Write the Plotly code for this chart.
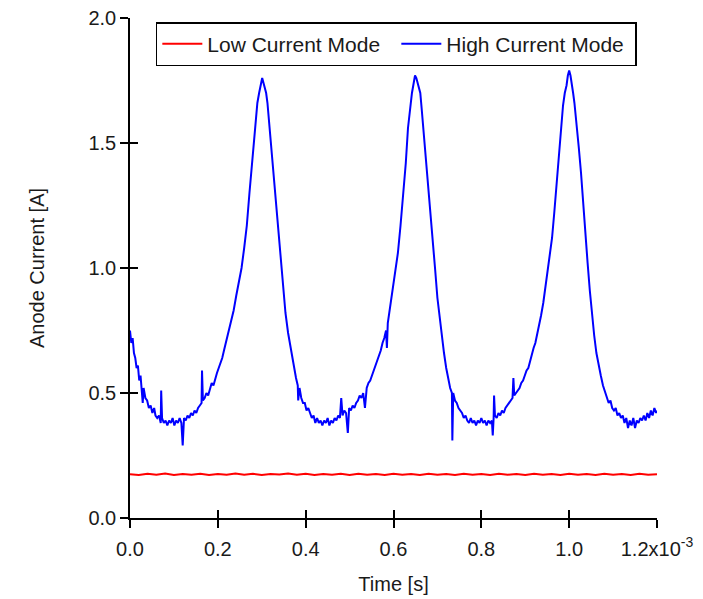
import plotly.graph_objects as go

# ---- data (time in ms, converted to s below) ----
high_time_ms = [
    0.000, 0.003, 0.006, 0.009, 0.012, 0.015, 0.018, 0.021, 0.024, 0.027,
    0.029, 0.031, 0.035, 0.039, 0.043, 0.047, 0.051, 0.055, 0.058, 0.062,
    0.066, 0.070, 0.071, 0.073, 0.077, 0.081, 0.085, 0.089, 0.093, 0.097,
    0.101, 0.105, 0.109, 0.113, 0.117, 0.120, 0.123, 0.127, 0.131, 0.135,
    0.139, 0.143, 0.147, 0.151, 0.155, 0.159, 0.163, 0.164, 0.166, 0.170,
    0.174, 0.178, 0.182, 0.186, 0.190, 0.194, 0.198, 0.202, 0.206, 0.210,
    0.214, 0.218, 0.222, 0.226, 0.230, 0.236, 0.242, 0.248, 0.254, 0.260,
    0.266, 0.272, 0.278, 0.284, 0.290, 0.294, 0.298, 0.301, 0.304, 0.307,
    0.310, 0.313, 0.316, 0.319, 0.324, 0.330, 0.336, 0.342, 0.348, 0.354,
    0.360, 0.366, 0.372, 0.378, 0.382, 0.383, 0.386, 0.390, 0.394, 0.398,
    0.402, 0.406, 0.410, 0.414, 0.418, 0.422, 0.426, 0.430, 0.434, 0.438,
    0.442, 0.446, 0.450, 0.454, 0.458, 0.462, 0.466, 0.470, 0.474, 0.478,
    0.481, 0.484, 0.488, 0.492, 0.496, 0.499, 0.503, 0.507, 0.511, 0.515,
    0.519, 0.523, 0.527, 0.531, 0.535, 0.539, 0.543, 0.547, 0.551, 0.555,
    0.559, 0.563, 0.567, 0.571, 0.575, 0.579, 0.583, 0.585, 0.587, 0.592,
    0.598, 0.604, 0.610, 0.616, 0.622, 0.628, 0.633, 0.638, 0.642, 0.646,
    0.649, 0.652, 0.655, 0.658, 0.661, 0.664, 0.667, 0.670, 0.675, 0.680,
    0.685, 0.690, 0.695, 0.700, 0.705, 0.710, 0.715, 0.720, 0.725, 0.729,
    0.733, 0.734, 0.736, 0.740, 0.744, 0.748, 0.752, 0.756, 0.760, 0.764,
    0.768, 0.772, 0.776, 0.780, 0.784, 0.788, 0.792, 0.796, 0.800, 0.804,
    0.808, 0.812, 0.816, 0.820, 0.824, 0.826, 0.828, 0.829, 0.831, 0.835,
    0.839, 0.843, 0.847, 0.851, 0.855, 0.859, 0.863, 0.867, 0.871, 0.873,
    0.875, 0.879, 0.883, 0.887, 0.891, 0.895, 0.899, 0.903, 0.907, 0.911,
    0.915, 0.919, 0.923, 0.927, 0.931, 0.936, 0.941, 0.946, 0.951, 0.956,
    0.961, 0.966, 0.971, 0.976, 0.981, 0.986, 0.990, 0.994, 0.997, 1.000,
    1.003, 1.006, 1.009, 1.012, 1.015, 1.018, 1.022, 1.027, 1.032, 1.037,
    1.042, 1.047, 1.052, 1.057, 1.062, 1.067, 1.072, 1.077, 1.082, 1.086,
    1.090, 1.094, 1.098, 1.102, 1.106, 1.110, 1.114, 1.118, 1.122, 1.126,
    1.130, 1.134, 1.138, 1.142, 1.146, 1.150, 1.154, 1.158, 1.162, 1.166,
    1.170, 1.174, 1.178, 1.182, 1.186, 1.190, 1.194, 1.198, 1.200,
]
high_current = [
    0.75, 0.70, 0.72, 0.66, 0.64, 0.60, 0.61, 0.55, 0.57, 0.50,
    0.46, 0.52, 0.48, 0.47, 0.44, 0.45, 0.42, 0.44, 0.41, 0.40,
    0.41, 0.38, 0.51, 0.40, 0.38, 0.39, 0.37, 0.39, 0.38, 0.40,
    0.37, 0.39, 0.38, 0.40, 0.38, 0.29, 0.40, 0.39, 0.41, 0.40,
    0.42, 0.41, 0.43, 0.42, 0.44, 0.45, 0.46, 0.59, 0.47, 0.48,
    0.50, 0.49, 0.52, 0.54, 0.53, 0.56, 0.58, 0.60, 0.62, 0.64,
    0.67, 0.70, 0.72, 0.75, 0.78, 0.83, 0.89, 0.94, 1.00, 1.08,
    1.17, 1.30, 1.42, 1.56, 1.66, 1.70, 1.74, 1.76, 1.74, 1.72,
    1.70, 1.66, 1.60, 1.54, 1.44, 1.30, 1.18, 1.05, 0.93, 0.82,
    0.74, 0.67, 0.62, 0.56, 0.53, 0.47, 0.52, 0.48, 0.46, 0.46,
    0.43, 0.44, 0.42, 0.40, 0.41, 0.38, 0.40, 0.38, 0.39, 0.37,
    0.39, 0.38, 0.40, 0.37, 0.39, 0.38, 0.40, 0.39, 0.41, 0.40,
    0.48, 0.41, 0.43, 0.42, 0.34, 0.44, 0.43, 0.45, 0.44, 0.46,
    0.47, 0.49, 0.48, 0.50, 0.44, 0.52, 0.54, 0.55, 0.57, 0.59,
    0.61, 0.63, 0.65, 0.67, 0.70, 0.72, 0.75, 0.68, 0.78, 0.84,
    0.90, 0.98, 1.06, 1.17, 1.29, 1.42, 1.56, 1.64, 1.70, 1.74,
    1.77, 1.76, 1.74, 1.72, 1.70, 1.64, 1.58, 1.52, 1.42, 1.32,
    1.21, 1.10, 0.99, 0.88, 0.80, 0.72, 0.66, 0.60, 0.55, 0.52,
    0.50, 0.31, 0.50, 0.47, 0.46, 0.44, 0.43, 0.42, 0.40, 0.41,
    0.39, 0.38, 0.40, 0.38, 0.39, 0.37, 0.39, 0.38, 0.40, 0.38,
    0.39, 0.37, 0.39, 0.38, 0.39, 0.33, 0.40, 0.49, 0.41, 0.40,
    0.42, 0.41, 0.43, 0.42, 0.44, 0.45, 0.46, 0.47, 0.48, 0.56,
    0.49, 0.50, 0.51, 0.52, 0.54, 0.55, 0.57, 0.59, 0.60, 0.63,
    0.65, 0.68, 0.70, 0.73, 0.76, 0.81, 0.86, 0.92, 0.98, 1.05,
    1.12, 1.22, 1.33, 1.44, 1.56, 1.65, 1.70, 1.73, 1.77, 1.79,
    1.77, 1.74, 1.70, 1.66, 1.61, 1.55, 1.48, 1.38, 1.25, 1.13,
    1.02, 0.91, 0.81, 0.73, 0.66, 0.61, 0.57, 0.53, 0.50, 0.48,
    0.46, 0.47, 0.44, 0.43, 0.44, 0.41, 0.42, 0.40, 0.41, 0.38,
    0.40, 0.36, 0.39, 0.37, 0.40, 0.36, 0.39, 0.38, 0.40, 0.39,
    0.41, 0.39, 0.42, 0.40, 0.43, 0.41, 0.44, 0.42, 0.43,
]

low_time_ms = [
    0.00, 0.02, 0.04, 0.06, 0.08, 0.10, 0.12, 0.14, 0.16, 0.18,
    0.20, 0.22, 0.24, 0.26, 0.28, 0.30, 0.32, 0.34, 0.36, 0.38,
    0.40, 0.42, 0.44, 0.46, 0.48, 0.50, 0.52, 0.54, 0.56, 0.58,
    0.60, 0.62, 0.64, 0.66, 0.68, 0.70, 0.72, 0.74, 0.76, 0.78,
    0.80, 0.82, 0.84, 0.86, 0.88, 0.90, 0.92, 0.94, 0.96, 0.98,
    1.00, 1.02, 1.04, 1.06, 1.08, 1.10, 1.12, 1.14, 1.16, 1.18, 1.20,
]
low_current = [
    0.175, 0.172, 0.177, 0.173, 0.178, 0.172, 0.176, 0.173, 0.177, 0.172,
    0.176, 0.173, 0.178, 0.173, 0.177, 0.172, 0.176, 0.174, 0.178, 0.173,
    0.177, 0.172, 0.176, 0.173, 0.177, 0.172, 0.177, 0.173, 0.176, 0.172,
    0.177, 0.173, 0.176, 0.172, 0.177, 0.173, 0.176, 0.172, 0.177, 0.173,
    0.176, 0.172, 0.177, 0.173, 0.176, 0.172, 0.177, 0.173, 0.176, 0.172,
    0.177, 0.173, 0.176, 0.172, 0.177, 0.173, 0.176, 0.172, 0.177, 0.173, 0.175,
]

x_tickvals_ms = [0.0, 0.2, 0.4, 0.6, 0.8, 1.0, 1.2]
x_ticktext = ["0.0", "0.2", "0.4", "0.6", "0.8", "1.0", "1.2x10<sup>-3</sup>"]
y_tickvals = [0.0, 0.5, 1.0, 1.5, 2.0]
y_ticktext = ["0.0", "0.5", "1.0", "1.5", "2.0"]

MS = 1e-3
high_t = [t * MS for t in high_time_ms]
low_t = [t * MS for t in low_time_ms]
x_tickvals = [t * MS for t in x_tickvals_ms]

FONT = "Arial, 'Liberation Sans', sans-serif"
FS = 20

fig = go.Figure()
fig.add_trace(go.Scatter(x=low_t, y=low_current, mode="lines",
                         name="Low Current Mode",
                         line=dict(color="#ff0000", width=2)))
fig.add_trace(go.Scatter(x=high_t, y=high_current, mode="lines",
                         name="High Current Mode",
                         line=dict(color="#0000ff", width=2)))
# empty trace so the overlay axes (inside tick halves) get drawn
fig.add_trace(go.Scatter(x=[None], y=[None], xaxis="x2", yaxis="y2",
                         showlegend=False, hoverinfo="skip"))

xr = [0, 1.2 * MS]
yr = [0, 2.0]
common_x = dict(range=xr, tickvals=x_tickvals, ticklen=8, tickwidth=1.5,
                tickcolor="black", showgrid=False, zeroline=False,
                automargin=False)
common_y = dict(range=yr, tickvals=y_tickvals, ticklen=8, tickwidth=1.5,
                tickcolor="black", showgrid=False, zeroline=False,
                automargin=False)

fig.update_layout(
    width=703, height=599,
    margin=dict(l=130, r=46, t=18, b=81),
    paper_bgcolor="white", plot_bgcolor="white",
    font=dict(family=FONT, size=FS, color="#1a1a1a"),
    xaxis=dict(**common_x, ticktext=x_ticktext, ticks="outside",
               showline=True, linecolor="black", linewidth=1.5,
               ticklabelstandoff=4,
               title=dict(text="Time [s]", standoff=18,
                          font=dict(size=FS)),
               tickfont=dict(size=FS)),
    yaxis=dict(**common_y, ticktext=y_ticktext, ticks="outside",
               showline=True, linecolor="black", linewidth=1.5,
               ticklabelstandoff=0,
               title=dict(text="Anode Current [A]", standoff=38,
                          font=dict(size=FS)),
               tickfont=dict(size=FS)),
    xaxis2=dict(**common_x, overlaying="x", anchor="y2", side="bottom",
                ticks="inside", showticklabels=False, showline=False),
    yaxis2=dict(**common_y, overlaying="y", anchor="x2", side="left",
                ticks="inside", showticklabels=False, showline=False),
    legend=dict(orientation="h", x=0.049, y=0.992, xanchor="left",
                yanchor="top", bgcolor="white", bordercolor="black",
                borderwidth=1.5, font=dict(size=21),
                itemwidth=40, entrywidth=184, entrywidthmode="pixels",
                tracegroupgap=0),
    showlegend=True,
)

fig.write_html("out.html",
               config={"displayModeBar": False},
               post_script="document.body.style.margin='0';")
